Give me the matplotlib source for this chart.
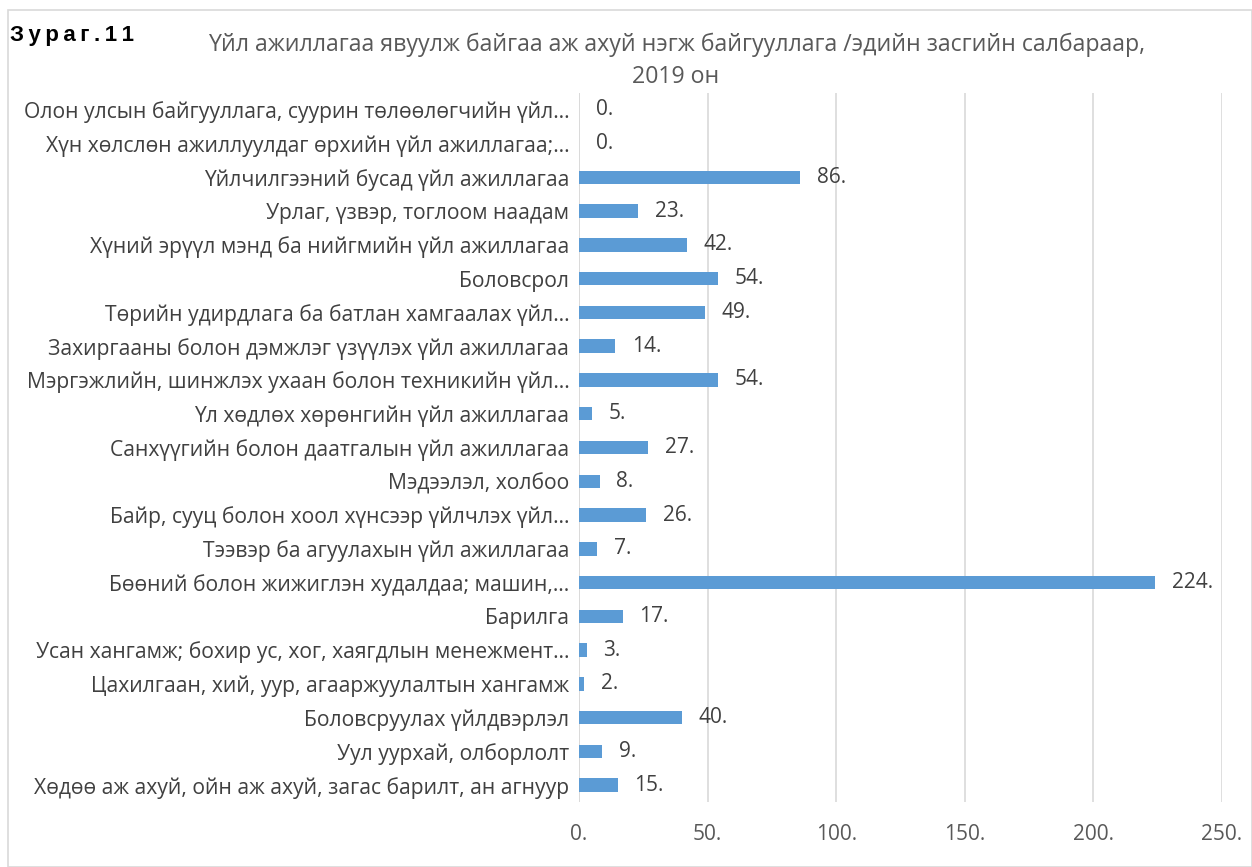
import matplotlib
matplotlib.use('Agg')
import matplotlib.pyplot as plt
import numpy as np
from matplotlib.patches import Rectangle

# Салбарууд (дээрээс доош)
categories = [
    "Олон улсын байгууллага, суурин төлөөлөгчийн үйл…",
    "Хүн хөлслөн ажиллуулдаг өрхийн үйл ажиллагаа;…",
    "Үйлчилгээний бусад үйл ажиллагаа",
    "Урлаг, үзвэр, тоглоом наадам",
    "Хүний эрүүл мэнд ба нийгмийн үйл ажиллагаа",
    "Боловсрол",
    "Төрийн удирдлага ба батлан хамгаалах үйл…",
    "Захиргааны болон дэмжлэг үзүүлэх үйл ажиллагаа",
    "Мэргэжлийн, шинжлэх ухаан болон техникийн үйл…",
    "Үл хөдлөх хөрөнгийн үйл ажиллагаа",
    "Санхүүгийн болон даатгалын үйл ажиллагаа",
    "Мэдээлэл, холбоо",
    "Байр, сууц болон хоол хүнсээр үйлчлэх үйл…",
    "Тээвэр ба агуулахын үйл ажиллагаа",
    "Бөөний болон жижиглэн худалдаа; машин,…",
    "Барилга",
    "Усан хангамж; бохир ус, хог, хаягдлын менежмент…",
    "Цахилгаан, хий, уур, агааржуулалтын хангамж",
    "Боловсруулах үйлдвэрлэл",
    "Уул уурхай, олборлолт",
    "Хөдөө аж ахуй, ойн аж ахуй, загас барилт, ан агнуур",
]
values = [0, 0, 86, 23, 42, 54, 49, 14, 54, 5, 27, 8, 26, 7, 224, 17, 3, 2, 40, 9, 15]
xticks = [0, 50, 100, 150, 200, 250]

plt.rcParams['font.family'] = ['Open Sans', 'DejaVu Sans']

fig = plt.figure(figsize=(12.52, 8.67), dpi=100)
ax = fig.add_axes([0.4625, 0.075, 0.976 - 0.4625, 0.8927 - 0.075])

y = np.arange(len(categories))
ax.barh(y, values, height=0.4, color='#5B9BD5')
for yi, v in zip(y, values):
    ax.annotate(f"{v}.", (v, yi), xytext=(12, 0), textcoords='offset points',
                ha='left', va='center', fontsize=15, color='#404040')

ax.set_ylim(len(categories) - 0.5, -0.5)
ax.set_xlim(0, 250)
ax.set_yticks(y)
ax.set_yticklabels(categories, fontsize=15.2, color='#404040')
ax.set_xticks(xticks)
ax.set_xticklabels([f"{t}." for t in xticks], fontsize=15, color='#595959')
ax.tick_params(axis='both', length=0)
ax.tick_params(axis='x', pad=16)
ax.tick_params(axis='y', pad=7)
ax.grid(axis='x', color='#D9D9D9', linewidth=1.2)
ax.set_axisbelow(True)
for s in ax.spines.values():
    s.set_visible(False)
ax.axvline(0, color='#D9D9D9', linewidth=1.2, zorder=0)

fig.text(0.54, 0.93, "Үйл ажиллагаа явуулж байгаа аж ахуй нэгж байгууллага /эдийн засгийн салбараар,\n2019 он",
         ha='center', va='center', fontsize=16.7, color='#595959', linespacing=1.45)
fig.text(0.008, 0.959, "\u2009".join("Зураг.11"), fontsize=16, fontweight='bold',
         family=['Liberation Sans', 'DejaVu Sans'], color='black', va='center')

fig.patches.append(Rectangle((0.006, 0.0), 0.994, 0.988, transform=fig.transFigure,
                             fill=False, edgecolor='#D9D9D9', linewidth=1.2))

plt.savefig('out.png', dpi=100)
plt.close()
